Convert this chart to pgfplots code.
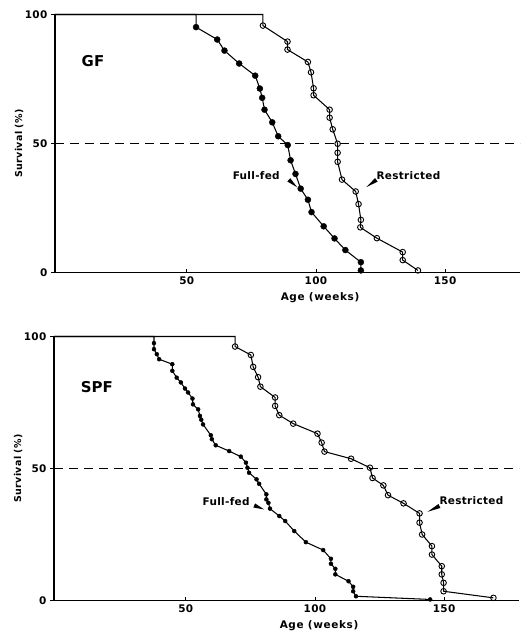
\documentclass[border=0pt]{standalone}
\usepackage{fontspec}
\setmainfont{DejaVu Sans}
\usepackage{pgfplots}
\pgfplotsset{compat=1.18}
\usepackage{pgfplotstable}
\usetikzlibrary{calc}

\pgfplotstableread{
x y
-1 100
53.6 100
53.6 95.1
61.8 90.3
64.6 86.0
70.3 81.0
76.5 76.3
78.3 71.3
79.2 67.7
80.1 63.1
83.1 58.2
85.4 52.8
89.1 49.4
90.2 43.5
92.1 38.2
94.1 32.5
96.9 28.2
98.3 23.4
103.0 17.9
107.2 13.2
111.4 8.7
117.4 4.0
117.4 0.8
}\gffull

\pgfplotstableread{
x y
-1 100
79.5 100
79.5 95.7
89.0 89.5
89.0 86.4
96.9 81.6
98.1 77.6
99.1 71.4
99.1 68.7
105.3 63.1
105.3 60.0
106.5 55.5
108.4 49.9
108.4 46.4
108.4 42.9
110.1 36.0
115.4 31.4
116.5 26.5
117.4 20.4
117.2 17.5
123.6 13.3
133.6 7.9
133.6 4.8
139.5 0.8
}\gfrestr

\pgfplotstableread{
x y
-1 100
37.7 100
37.7 97.5
37.7 95.2
38.8 93.3
39.7 91.4
44.8 89.5
44.8 87.0
46.5 84.4
48.1 82.6
49.7 80.3
50.9 78.8
52.6 76.5
52.8 74.3
54.8 72.4
55.5 69.9
56.0 68.5
56.7 66.7
59.7 62.6
60.1 61.1
61.6 58.8
66.8 56.6
71.3 54.5
73.3 52.2
73.9 50.3
74.5 48.4
77.4 45.9
78.4 44.2
81.2 40.2
81.2 38.3
82.0 37.0
82.6 34.8
86.2 32.0
88.5 30.1
92.0 26.3
96.5 22.1
103.2 19.1
106.2 15.8
106.2 13.9
107.9 12.0
107.9 9.9
113.0 7.3
114.8 5.2
114.8 3.5
115.9 1.6
144.6 0.4
}\spffull

\pgfplotstableread{
x y
-1 100
69.1 100
69.1 96.2
75.2 93.0
76.1 88.5
78.0 84.6
78.9 81.0
84.6 76.9
84.6 73.7
86.2 70.2
91.6 67.0
101.0 63.2
102.6 59.8
103.7 56.4
114.0 53.7
121.3 50.3
122.3 46.4
126.5 43.6
128.3 39.9
134.3 36.8
140.5 33.0
140.5 29.5
141.5 25.0
145.3 20.6
145.3 17.4
149.1 13.0
149.1 9.9
149.8 6.7
149.8 3.5
169.1 1.0
}\spfrestr

\newcommand{\wedgearrow}[2]{%
  \fill ($(#1)!2.2pt!90:(#2)$) -- (#2) -- ($(#1)!2.2pt!-90:(#2)$) -- cycle;}

\newcommand{\lblfont}{\bfseries\fontsize{10.5}{12}\selectfont\addfontfeature{LetterSpace=3}}

\pgfplotsset{
  survstyle/.style={
    scale only axis,
    width=465bp,
    xmin=-1, xmax=179,
    ymin=0, ymax=100,
    axis x line=bottom,
    axis y line=left,
    axis line style={-, line width=1.2bp},
    xtick={50,100,150},
    ytick={0,50,100},
    x tick style={black, line width=0.8bp},
    y tick style={black, line width=0.8bp},
    major tick length=3.5bp,
    xtick align=inside,
    ytick align=outside,
    /pgf/number format/assume math mode=true,
    tick label style={font=\bfseries\fontsize{10.5}{12}\selectfont\addfontfeature{LetterSpace=4}},
    xticklabel style={yshift=-1bp},
    yticklabel style={xshift=-0.5bp},
    xlabel={Age (weeks)},
    ylabel={Survival (\%)},
    xlabel style={font=\bfseries\fontsize{10.5}{12}\selectfont\addfontfeature{LetterSpace=6}, at={(axis description cs:0.57,-0.097)}, anchor=center},
    ylabel style={font=\bfseries\fontsize{9.5}{11}\selectfont\addfontfeature{LetterSpace=4}, at={(axis description cs:-0.077,0.5)}, anchor=center, rotate=0},
    clip=false,
  },
  curve/.style={black, line width=1.05bp, mark=none},
  fullmark/.style={only marks, mark=*, mark size=#1, mark options={fill=black, draw=black}},
  restmark/.style={only marks, mark=o, mark size=#1, mark options={fill=white, draw=black, line width=0.9bp}},
}

\begin{document}
\begin{tikzpicture}
\path[use as bounding box] (0,0) rectangle (527bp,634bp);

% Top: GF
\begin{axis}[survstyle, height=258bp, at={(55bp,361.5bp)}, anchor=south west]
\addplot[black, line width=1bp, dash pattern=on 9bp off 6bp] coordinates {(-1,50) (179,50)};
\addplot[curve] table[x=x,y=y] {\gffull};
\addplot[curve] table[x=x,y=y] {\gfrestr};
\addplot[fullmark=3bp, skip coords between index={0}{2}] table[x=x,y=y] {\gffull};
\addplot[restmark=2.8bp, skip coords between index={0}{2}] table[x=x,y=y] {\gfrestr};
\node[font=\bfseries\fontsize{15}{18}\selectfont] at (axis cs:13.7,81.8) {GF};
\node[font=\lblfont] at (axis cs:76.9,37.5) {Full-fed};
\node[font=\lblfont] at (axis cs:135.8,37.5) {Restricted};
\wedgearrow{axis cs:89.5,35.9}{axis cs:92.8,33.0}
\wedgearrow{axis cs:123.4,35.9}{axis cs:119.5,33.1}
\end{axis}

% Bottom: SPF
\begin{axis}[survstyle, height=264bp, at={(54bp,33.5bp)}, anchor=south west]
\addplot[black, line width=1bp, dash pattern=on 9bp off 6bp] coordinates {(-1,50) (179,50)};
\addplot[curve] table[x=x,y=y] {\spffull};
\addplot[curve] table[x=x,y=y] {\spfrestr};
\addplot[fullmark=2bp, skip coords between index={0}{2}] table[x=x,y=y] {\spffull};
\addplot[restmark=2.8bp, skip coords between index={0}{2}] table[x=x,y=y] {\spfrestr};
\node[font=\bfseries\fontsize{15}{18}\selectfont] at (axis cs:15.6,80.8) {SPF};
\node[font=\lblfont] at (axis cs:65.6,37.5) {Full-fed};
\node[font=\lblfont] at (axis cs:160.6,37.9) {Restricted};
\wedgearrow{axis cs:76.5,36.0}{axis cs:80.3,34.5}
\wedgearrow{axis cs:148.2,35.8}{axis cs:143.6,33.6}
\end{axis}
\end{tikzpicture}
\end{document}
